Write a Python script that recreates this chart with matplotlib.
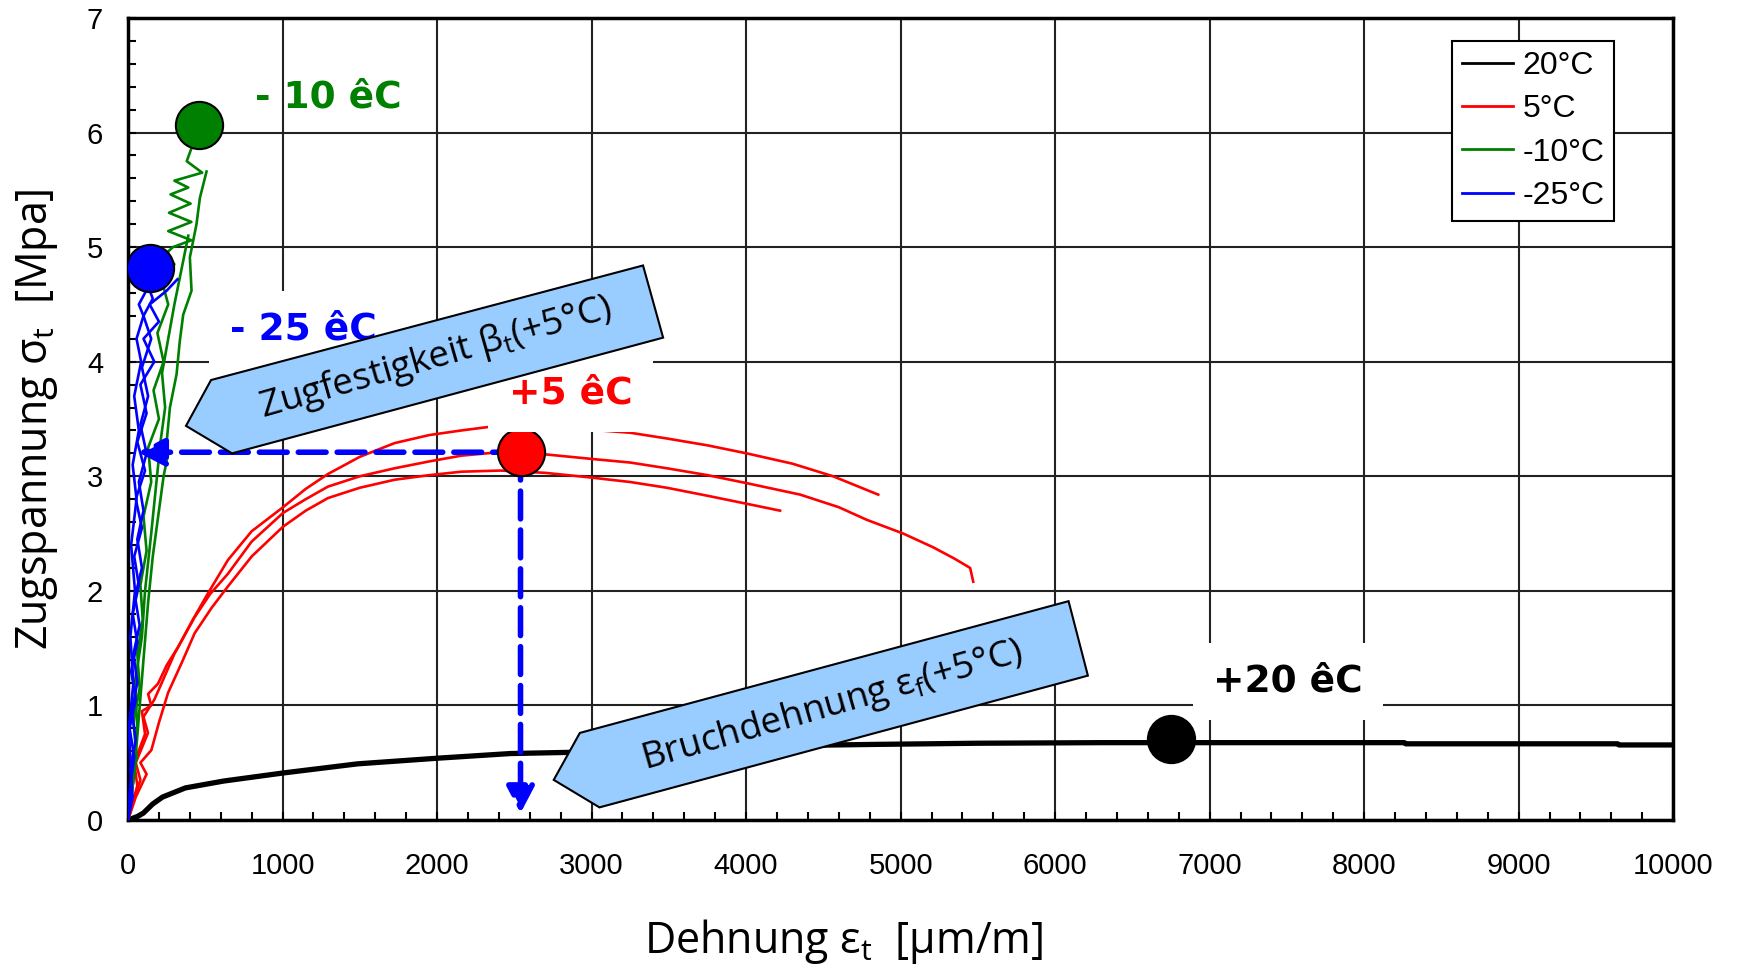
import matplotlib
matplotlib.use("Agg")
import matplotlib.pyplot as plt
from matplotlib.patches import Polygon
from matplotlib.ticker import MultipleLocator

# ---- data: strain [um/m] vs. tensile stress [MPa] ----
strain_20 = [0, 60, 99, 160, 223, 371, 619, 1002, 1485, 2010, 2475, 2847, 3300, 3800,
             4300, 4850, 5500, 6300, 7000, 7800, 8260, 8270, 9200, 9640, 9650, 10000]
stress_20 = [0, 0.03, 0.06, 0.14, 0.20, 0.28, 0.34, 0.41, 0.49, 0.54, 0.58, 0.59, 0.61, 0.63,
             0.65, 0.66, 0.67, 0.675, 0.675, 0.675, 0.675, 0.665, 0.665, 0.665, 0.655, 0.655]

strain_5a = [0, 60, 40, 110, 90, 150, 130, 194, 250, 324, 420, 518, 647, 800, 1003, 1150,
             1294, 1500, 1726, 1950, 2157, 2330, 2600, 2800, 3055, 3250, 3487, 3750, 4004,
             4300, 4563, 4855]
stress_5a = [0, 0.3, 0.5, 0.75, 0.95, 1.0, 1.1, 1.19, 1.35, 1.51, 1.75, 1.98, 2.27, 2.52,
             2.73, 2.89, 3.02, 3.17, 3.29, 3.36, 3.40, 3.43, 3.45, 3.44, 3.40, 3.38, 3.33,
             3.27, 3.20, 3.11, 3.00, 2.84]
strain_5b = [0, 30, 80, 50, 129, 100, 170, 216, 300, 431, 530, 647, 800, 1003, 1150, 1294,
             1500, 1726, 1950, 2157, 2400, 2710, 3012, 3250, 3487, 3750, 4004, 4350, 4600,
             4781, 5017, 5211, 5350, 5450, 5470]
stress_5b = [0, 0.15, 0.35, 0.5, 0.76, 0.9, 1.05, 1.19, 1.45, 1.77, 1.97, 2.15, 2.43, 2.68,
             2.80, 2.91, 3.00, 3.07, 3.13, 3.18, 3.21, 3.19, 3.15, 3.12, 3.07, 3.01, 2.94,
             2.84, 2.73, 2.62, 2.50, 2.38, 2.28, 2.20, 2.08]
strain_5c = [0, 50, 120, 80, 151, 200, 259, 350, 431, 540, 647, 800, 1003, 1150, 1294, 1500,
             1726, 1950, 2157, 2408, 2700, 2990, 3250, 3487, 3750, 4004, 4220]
stress_5c = [0, 0.2, 0.4, 0.5, 0.61, 0.85, 1.11, 1.38, 1.63, 1.85, 2.04, 2.30, 2.56, 2.70,
             2.81, 2.90, 2.97, 3.01, 3.04, 3.05, 3.03, 2.99, 2.95, 2.90, 2.83, 2.76, 2.70]

strain_m10a = [0, 25, 55, 35, 75, 60, 95, 80, 120, 100, 150, 130, 200, 165, 230, 190, 260,
               220, 300, 250, 290, 410, 260, 410, 265, 405, 275, 390, 300, 480, 380, 420, 460]
stress_m10a = [0, 0.25, 0.55, 0.85, 1.15, 1.45, 1.75, 2.05, 2.35, 2.65, 2.95, 3.25, 3.5,
               3.75, 4.0, 4.25, 4.5, 4.7, 4.85, 4.95, 5.0, 5.06, 5.14, 5.22, 5.30, 5.38,
               5.46, 5.52, 5.58, 5.65, 5.75, 5.9, 6.07]
strain_m10b = [0, 40, 70, 100, 130, 160, 200, 230, 260, 250, 271, 314, 335, 357, 411, 400,
               443, 465, 508]
stress_m10b = [0, 0.4, 0.9, 1.4, 1.9, 2.3, 2.7, 3.0, 3.2, 3.3, 3.6, 3.89, 4.18, 4.41, 4.62,
               4.91, 5.2, 5.43, 5.66]
strain_m10c = [0, 30, 60, 45, 90, 110, 150, 180, 210, 240, 220, 260, 300, 330, 360, 390]
stress_m10c = [0, 0.3, 0.8, 1.2, 1.6, 2.0, 2.5, 2.9, 3.3, 3.6, 3.9, 4.2, 4.5, 4.7, 4.9, 5.1]

strain_m25a = [0, 30, 15, 50, 25, 60, 35, 75, 45, 90, 60, 100, 70, 120, 80, 130, 90, 150,
               100, 160, 120, 142]
stress_m25a = [0, 0.2, 0.45, 0.7, 0.95, 1.2, 1.45, 1.7, 1.95, 2.2, 2.45, 2.7, 2.95, 3.2,
               3.45, 3.7, 3.95, 4.2, 4.4, 4.55, 4.7, 4.82]
strain_m25b = [0, 15, 40, 10, 50, 20, 60, 30, 70, 40, 90, 50, 110, 60, 120, 80, 170, 100,
               200, 140, 250, 320]
stress_m25b = [0, 0.3, 0.55, 0.8, 1.05, 1.3, 1.55, 1.8, 2.05, 2.3, 2.55, 2.8, 3.05, 3.3,
               3.55, 3.8, 4.0, 4.2, 4.35, 4.5, 4.62, 4.72]
strain_m25c = [0, 20, 5, 35, 15, 45, 20, 55, 30, 70, 40, 85, 55, 100, 70, 110]
stress_m25c = [0, 0.4, 0.8, 1.2, 1.6, 2.0, 2.4, 2.8, 3.1, 3.4, 3.7, 4.0, 4.2, 4.4, 4.5, 4.6]

# failure points (strain, stress)
fail_points = {
    "20": (6750, 0.71),
    "5": (2540, 3.21),
    "-10": (460, 6.07),
    "-25": (142, 4.82),
}
colors = {"20": "black", "5": "red", "-10": "#008000", "-25": "blue"}
legend_labels = ["20°C", "5°C", "-10°C", "-25°C"]

plt.rcParams["font.family"] = ["Liberation Sans", "DejaVu Sans"]
plt.rcParams["mathtext.fontset"] = "custom"
plt.rcParams["mathtext.rm"] = "Open Sans"
plt.rcParams["mathtext.it"] = "Open Sans:italic"

fig = plt.figure(figsize=(17.42, 9.68), dpi=100)
ax = fig.add_axes([0.0735, 0.1529, 0.887, 0.8285])

# curves
ax.plot(strain_20, stress_20, color=colors["20"], lw=3.8, label=legend_labels[0], zorder=3)
for i, (sx, sy) in enumerate([(strain_5a, stress_5a), (strain_5b, stress_5b), (strain_5c, stress_5c)]):
    ax.plot(sx, sy, color=colors["5"], lw=1.9, label=legend_labels[1] if i == 0 else None, zorder=3)
for i, (sx, sy) in enumerate([(strain_m10a, stress_m10a), (strain_m10b, stress_m10b), (strain_m10c, stress_m10c)]):
    ax.plot(sx, sy, color=colors["-10"], lw=1.9, label=legend_labels[2] if i == 0 else None, zorder=3)
for i, (sx, sy) in enumerate([(strain_m25a, stress_m25a), (strain_m25b, stress_m25b), (strain_m25c, stress_m25c)]):
    ax.plot(sx, sy, color=colors["-25"], lw=1.9, label=legend_labels[3] if i == 0 else None, zorder=3)

# dashed arrows from the +5 failure point to the axes
px, py = fail_points["5"]
arrow_kw = dict(arrowstyle="-|>,head_length=0.8,head_width=0.42", color="blue", lw=4,
                ls=(0, (5, 2)), shrinkA=0, shrinkB=0, mutation_scale=20)
ax.annotate("", xy=(65, py), xytext=(px, py), arrowprops=arrow_kw, zorder=4)
ax.annotate("", xy=(px, 0.06), xytext=(px, py), arrowprops=arrow_kw, zorder=4)

# failure markers
for key, (fx, fy) in fail_points.items():
    ax.plot(fx, fy, "o", ms=34, mfc=colors[key], mec="black", mew=1.5, zorder=5)

# temperature labels
lbl_box = dict(boxstyle="square,pad=0.55", fc="white", ec="none")
lbl_kw = dict(fontsize=27, fontweight="bold", family="DejaVu Sans", va="center", ha="left", zorder=6)
ax.text(820, 6.31, "- 10 êC", color=colors["-10"], **lbl_kw)
ax.text(660, 4.28, "- 25 êC", color=colors["-25"], bbox=lbl_box, **lbl_kw)
ax.text(2466, 3.72, "+5 êC", color=colors["5"], bbox=lbl_box, **lbl_kw)
ax.text(7023, 1.21, "+20 êC", color=colors["20"], bbox=lbl_box, **lbl_kw)

# callout arrows
callout_kw = dict(closed=True, fc="#99ccff", ec="black", lw=1.5, zorder=7)
ax.add_patch(Polygon([(375, 3.44), (537, 3.84), (3333, 4.84), (3463, 4.21), (673, 3.20)], **callout_kw))
ax.add_patch(Polygon([(2755, 0.35), (2924, 0.76), (6087, 1.91), (6212, 1.26), (3051, 0.11)], **callout_kw))
call_txt = dict(fontsize=26.5, family="Open Sans", rotation=16, rotation_mode="anchor",
                ha="center", va="center", zorder=8)
ax.text(1990, 4.03, r"Zugfestigkeit $\mathregular{\beta_t}$(+5°C)", **call_txt)
ax.text(4560, 0.99, r"Bruchdehnung $\mathregular{\varepsilon_f}$(+5°C)", **call_txt)

# axes
ax.set_xlim(0, 10000)
ax.set_ylim(0, 7)
ax.xaxis.set_major_locator(MultipleLocator(1000))
ax.xaxis.set_minor_locator(MultipleLocator(200))
ax.yaxis.set_major_locator(MultipleLocator(1))
ax.yaxis.set_minor_locator(MultipleLocator(0.2))
ax.grid(which="major", color="#222222", lw=1.5, zorder=1)
ax.set_axisbelow(True)
ax.tick_params(which="both", direction="in", top=False, right=False, width=1.5)
ax.tick_params(which="minor", length=6)
ax.tick_params(which="major", length=6, labelsize=21)
ax.tick_params(axis="x", which="major", pad=23)
ax.tick_params(axis="y", which="major", pad=18)
for sp in ax.spines.values():
    sp.set_linewidth(2.5)

ax.set_xlabel(r"Dehnung $\mathregular{\varepsilon_t}$  [μm/m]", fontsize=31, family="Open Sans")
ax.set_ylabel(r"Zugspannung $\mathregular{\sigma_t}$  [Mpa]", fontsize=31, family="Open Sans")
ax.xaxis.set_label_coords(0.463, -0.151)
ax.xaxis.label.set_va("center")
ax.yaxis.set_label_coords(-0.059, 0.5)
ax.yaxis.label.set_va("center")

leg = ax.legend(loc="upper right", bbox_to_anchor=(0.962, 0.971), borderaxespad=0,
                fontsize=23, handlelength=1.6, handletextpad=0.3, labelspacing=0.42,
                fancybox=False, framealpha=1, edgecolor="black", borderpad=0.3)
leg.get_frame().set_linewidth(1.5)
for h in leg.get_lines():
    h.set_linewidth(2)

fig.savefig("out.png", dpi=100)
